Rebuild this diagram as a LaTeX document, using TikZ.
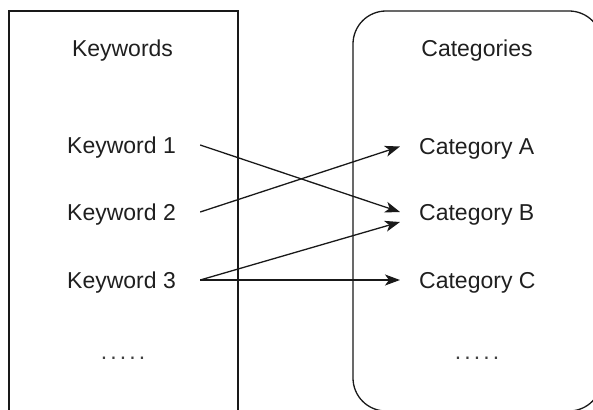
\documentclass[tikz,border=0pt]{standalone}
\usepackage{fontspec}
\setmainfont{Liberation Sans}
\usetikzlibrary{arrows.meta}
\begin{document}
\begin{tikzpicture}[x=1pt,y=-1pt,
  lbl/.style={font=\fontsize{23}{27}\selectfont, text=black!88, inner sep=0pt, text height=16.5pt, text depth=0pt},
  kw/.style={lbl, minimum width=157pt},
  cat/.style={lbl, anchor=west, inner xsep=19pt},
  frame/.style={draw=black!90, line width=1.3pt},
  conn/.style={draw=black!90, line width=1.3pt, -{Stealth[length=15pt,width=11pt,inset=4pt]}},
  dots/.style={font=\fontsize{23}{27}\selectfont, text=black!75, inner sep=0pt}]
\useasboundingbox (0,0) rectangle (593,409);
\begin{scope}
\clip (0,0) rectangle (593,409);
\draw[frame] (9,11) rectangle (238,430);
\draw[frame, rounded corners=33pt] (353,11) rectangle (602,411);
\end{scope}
\node[lbl] (hk) at (122.5,48.5) {Keywords};
\node[lbl] (hc) at (477,48.5) {Categories};
\node[kw] (k1) at (121.5,145) {Keyword 1};
\node[kw] (k2) at (121.5,212) {Keyword 2};
\node[kw] (k3) at (121.5,280) {Keyword 3};
\node[cat] (ca) at (400,146.5) {Category A};
\node[cat] (cb) at (400,212) {Category B};
\node[cat] (cc) at (400,280) {Category C};
\coordinate (cblow) at ([yshift=-10pt]cb.west);
\node[dots] (dk) at (123,358) {.\hspace{3.1pt}.\hspace{3.1pt}.\hspace{3.1pt}.\hspace{3.1pt}.};
\node[dots] (dc) at (477,358) {.\hspace{3.1pt}.\hspace{3.1pt}.\hspace{3.1pt}.\hspace{3.1pt}.};
\draw[conn] (k1.east) -- (cb.west);
\draw[conn] (k2.east) -- (ca.west);
\draw[conn] (k3.east) -- (cblow);
\draw[conn] (k3.east) -- (cc.west);
\end{tikzpicture}
\end{document}
